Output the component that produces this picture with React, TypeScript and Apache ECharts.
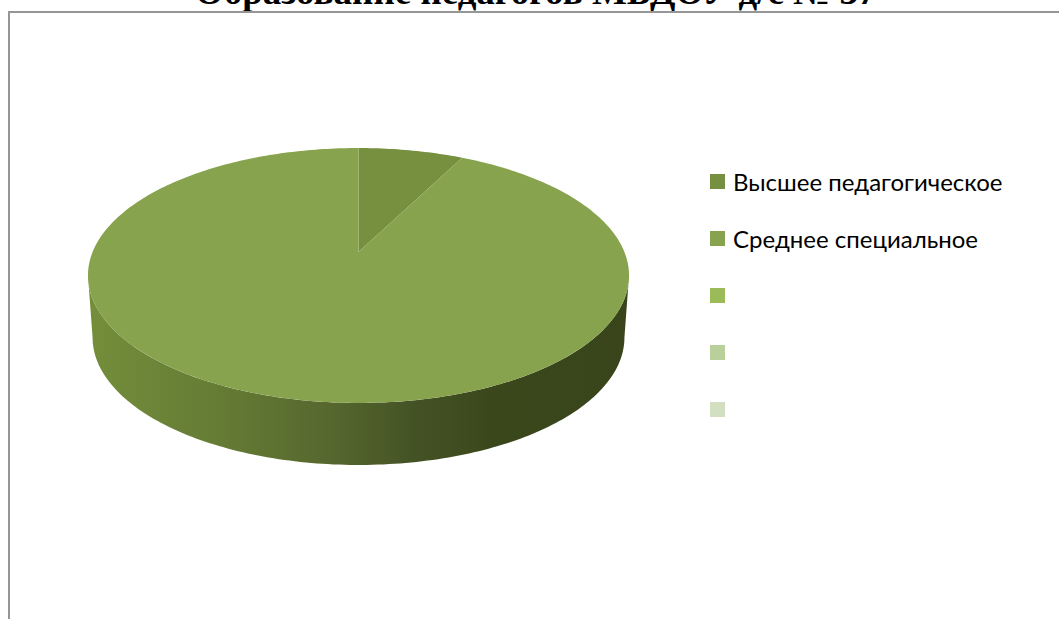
import React, { useEffect, useRef } from "react";
import * as echarts from "echarts";

const titleText = "Образование педагогов МБДОУ д/с № 37";
const categories = ["Высшее педагогическое", "Среднее специальное", " ", "  ", "   "];
const values = [7.5, 92.5, 0, 0, 0];
const colors = ["#76903f", "#87a34d", "#9bbb59", "#bad09b", "#d2dfc0"];

const CX = 358.5;
const APEX_Y = 252;
const PERSP = 0.1843;
const KX = 265.9;
const KY = -76.7;
const WALL_DY = 62;
const WALL_SX = 0.983;
const total = values.reduce((a, b) => a + b, 0);

function project(deg: number, wall = false): number[] {
  const t = (deg * Math.PI) / 180;
  const u = Math.sin(t);
  const v = Math.cos(t);
  const d = 1 + PERSP * v;
  const x = (KX * u) / d;
  const y = (KY * v + APEX_Y) / d;
  return wall ? [CX + x * WALL_SX, y + WALL_DY] : [CX + x, y];
}

function arc(a0: number, a1: number, wall = false): number[][] {
  const n = Math.max(2, Math.ceil(Math.abs(a1 - a0)));
  const pts: number[][] = [];
  for (let i = 0; i <= n; i++) pts.push(project(a0 + ((a1 - a0) * i) / n, wall));
  return pts;
}

const FRONT_START = 100.6;
const FRONT_END = 259.4;

function makeRenderItem(index: number) {
  return (_params: any, api: any) => {
    const value = api.value(0);
    if (!value) return { type: "group", children: [] };
    const before = values.slice(0, index).reduce((a, b) => a + b, 0);
    const a0 = (before / total) * 360;
    const a1 = ((before + value) / total) * 360;
    const children: any[] = [];
    const w0 = Math.max(a0, FRONT_START);
    const w1 = Math.min(a1, FRONT_END);
    if (w1 > w0) {
      children.push({
        type: "polygon",
        shape: { points: [...arc(w0, w1), ...arc(w1, w0, true)] },
        style: {
          fill: new echarts.graphic.LinearGradient(0, 0, 1, 0, [
            { offset: 0, color: "#748e3b" },
            { offset: 0.25, color: "#647b34" },
            { offset: 0.45, color: "#56672e" },
            { offset: 0.6, color: "#445325" },
            { offset: 0.75, color: "#3a471b" },
            { offset: 1, color: "#39441a" },
          ]),
        },
      });
    }
    children.push({
      type: "polygon",
      shape: { points: [[CX, APEX_Y], ...arc(a0, a1)] },
      style: { fill: colors[index] },
    });
    return { type: "group", children };
  };
}

export default function App() {
  const ref = useRef<HTMLDivElement>(null);
  useEffect(() => {
    document.body.style.margin = "0";
    document.body.style.overflow = "hidden";
    const chart = echarts.init(ref.current!, undefined, { renderer: "svg" });
    chart.setOption({
      animation: false,
      backgroundColor: "#ffffff",
      color: colors,
      title: {
        text: titleText,
        left: 195,
        top: -27,
        padding: 0,
        z: 0,
        textStyle: {
          fontFamily: "Liberation Serif",
          fontWeight: "bold",
          fontSize: 37,
          color: "#000000",
        },
      },
      legend: {
        orient: "vertical",
        left: 710,
        top: 169.5,
        padding: 0,
        itemWidth: 15,
        itemHeight: 15,
        itemGap: 33,
        icon: "rect",
        data: categories,
        textStyle: {
          fontFamily: "Lato, Open Sans",
          fontSize: 24,
          lineHeight: 15,
          color: "#000000",
          padding: [0, 0, 0, 3],
        },
      },
      graphic: [
        {
          type: "rect",
          z: 1,
          silent: true,
          shape: { x: 9, y: 12, width: 1200, height: 800 },
          style: { fill: "#ffffff", stroke: "#969696", lineWidth: 2 },
        },
      ],
      series: categories.map((name, i) => ({
        type: "custom",
        name,
        coordinateSystem: "none",
        itemStyle: { color: colors[i] },
        renderItem: makeRenderItem(i),
        data: [[values[i]]],
        silent: true,
      })),
    });
    return () => chart.dispose();
  }, []);
  return <div ref={ref} style={{ position: "absolute", left: 0, top: 0, width: 1059, height: 619 }} />;
}
